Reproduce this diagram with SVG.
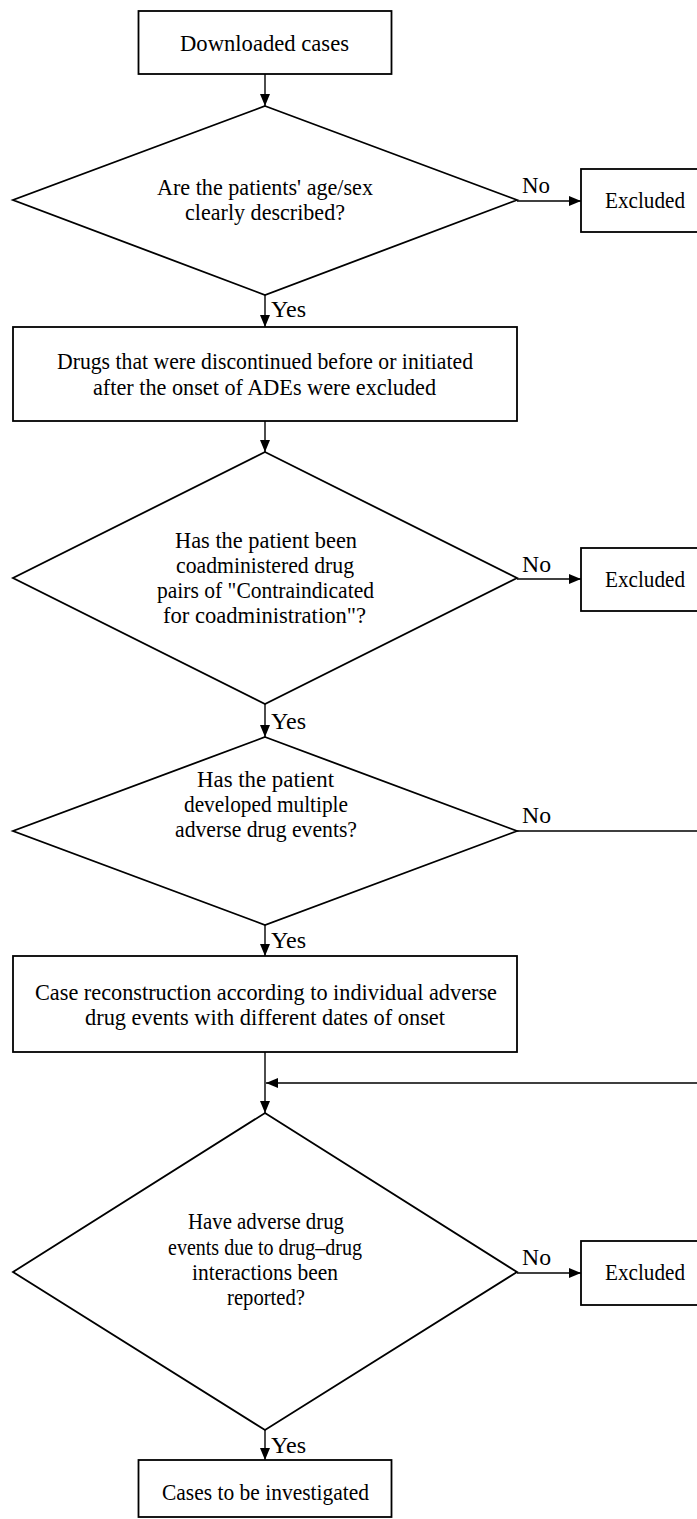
<svg xmlns="http://www.w3.org/2000/svg" width="697" height="1519" viewBox="0 0 697 1519">
<style>
.box{fill:#fff;stroke:#000;stroke-width:1.8}
.dia{fill:#fff;stroke:#000;stroke-width:1.8}
.ln{fill:none;stroke:#000;stroke-width:1.4}
text{font-family:'Liberation Serif','DejaVu Serif','Times New Roman',serif;font-size:24px;fill:#000}
.c{text-anchor:middle}
</style>
<defs>
<marker id="ah" markerUnits="userSpaceOnUse" markerWidth="12" markerHeight="10" refX="12" refY="5" orient="auto">
<path d="M0,0 L12,5 L0,10 Z" fill="#000"/>
</marker>
</defs>
<rect width="697" height="1519" fill="#fff"/>
<g id="connectors">
<line class="ln" x1="265" y1="74" x2="265" y2="106" marker-end="url(#ah)"/>
<line class="ln" x1="517" y1="201" x2="581" y2="201" marker-end="url(#ah)"/>
<line class="ln" x1="265" y1="295" x2="265" y2="327" marker-end="url(#ah)"/>
<line class="ln" x1="265" y1="421" x2="265" y2="452" marker-end="url(#ah)"/>
<line class="ln" x1="517" y1="579" x2="581" y2="579" marker-end="url(#ah)"/>
<line class="ln" x1="265" y1="704" x2="265" y2="737" marker-end="url(#ah)"/>
<line class="ln" x1="265" y1="925" x2="265" y2="956" marker-end="url(#ah)"/>
<path class="ln" d="M517,831 H712 V1083 H266" marker-end="url(#ah)"/>
<line class="ln" x1="265" y1="1052" x2="265" y2="1113" marker-end="url(#ah)"/>
<line class="ln" x1="517" y1="1273" x2="581" y2="1273" marker-end="url(#ah)"/>
<line class="ln" x1="265" y1="1430" x2="265" y2="1460" marker-end="url(#ah)"/>
<text x="522" y="193" textLength="28" lengthAdjust="spacingAndGlyphs">No</text>
<text x="522" y="572" textLength="29" lengthAdjust="spacingAndGlyphs">No</text>
<text x="522" y="823" textLength="29" lengthAdjust="spacingAndGlyphs">No</text>
<text x="522" y="1265" textLength="29" lengthAdjust="spacingAndGlyphs">No</text>
<text x="271" y="317" textLength="35" lengthAdjust="spacingAndGlyphs">Yes</text>
<text x="271" y="729" textLength="35" lengthAdjust="spacingAndGlyphs">Yes</text>
<text x="271" y="948" textLength="35" lengthAdjust="spacingAndGlyphs">Yes</text>
<text x="271" y="1453" textLength="35" lengthAdjust="spacingAndGlyphs">Yes</text>
</g>
<g id="n-downloaded">
<rect class="box" x="138.5" y="11" width="253" height="63"/>
<text class="c" x="264.5" y="51" textLength="169" lengthAdjust="spacingAndGlyphs">Downloaded cases</text>
</g>
<g id="d-agesex">
<polygon class="dia" points="265,106 517,200 265,295 13,200"/>
<text class="c" x="265" y="195" textLength="216" lengthAdjust="spacingAndGlyphs">Are the patients' age/sex</text>
<text class="c" x="265" y="220" textLength="160" lengthAdjust="spacingAndGlyphs">clearly described?</text>
</g>
<g id="n-excluded1">
<rect class="box" x="581" y="169" width="131" height="63"/>
<text class="c" x="645" y="208" textLength="80" lengthAdjust="spacingAndGlyphs">Excluded</text>
</g>
<g id="n-drugs">
<rect class="box" x="13" y="327" width="504" height="94"/>
<text class="c" x="265" y="369" textLength="416" lengthAdjust="spacingAndGlyphs">Drugs that were discontinued before or initiated</text>
<text class="c" x="264.5" y="395" textLength="343" lengthAdjust="spacingAndGlyphs">after the onset of ADEs were excluded</text>
</g>
<g id="d-contra">
<polygon class="dia" points="265,452 517,578 265,704 13,578"/>
<text class="c" x="266" y="548" textLength="182" lengthAdjust="spacingAndGlyphs">Has the patient been</text>
<text class="c" x="265" y="573" textLength="178" lengthAdjust="spacingAndGlyphs">coadministered drug</text>
<text class="c" x="265.5" y="598" textLength="217" lengthAdjust="spacingAndGlyphs">pairs of "Contraindicated</text>
<text class="c" x="264.5" y="623" textLength="203" lengthAdjust="spacingAndGlyphs">for coadministration"?</text>
</g>
<g id="n-excluded2">
<rect class="box" x="581" y="548" width="131" height="63"/>
<text class="c" x="645" y="587" textLength="80" lengthAdjust="spacingAndGlyphs">Excluded</text>
</g>
<g id="d-multiple">
<polygon class="dia" points="265,737 517,831 265,925 13,831"/>
<text class="c" x="265.5" y="787" textLength="137" lengthAdjust="spacingAndGlyphs">Has the patient</text>
<text class="c" x="266" y="812" textLength="164" lengthAdjust="spacingAndGlyphs">developed multiple</text>
<text class="c" x="266" y="837" textLength="182" lengthAdjust="spacingAndGlyphs">adverse drug events?</text>
</g>
<g id="n-reconstruction">
<rect class="box" x="13" y="956" width="504" height="96"/>
<text class="c" x="266" y="1000" textLength="462" lengthAdjust="spacingAndGlyphs">Case reconstruction according to individual  adverse</text>
<text class="c" x="265" y="1025" textLength="360" lengthAdjust="spacingAndGlyphs">drug events with different dates of onset</text>
</g>
<g id="d-ddi">
<polygon class="dia" points="265,1113 517,1272 265,1430 13,1272"/>
<text class="c" x="266" y="1229" textLength="156" lengthAdjust="spacingAndGlyphs">Have adverse drug</text>
<text class="c" x="265" y="1255" textLength="194" lengthAdjust="spacingAndGlyphs">events due to drug–drug</text>
<text class="c" x="265" y="1280" textLength="146" lengthAdjust="spacingAndGlyphs">interactions been</text>
<text class="c" x="266" y="1305" textLength="78" lengthAdjust="spacingAndGlyphs">reported?</text>
</g>
<g id="n-excluded3">
<rect class="box" x="581" y="1241" width="131" height="64"/>
<text class="c" x="645" y="1280" textLength="80" lengthAdjust="spacingAndGlyphs">Excluded</text>
</g>
<g id="n-cases">
<rect class="box" x="138.5" y="1460" width="253" height="57"/>
<text class="c" x="265.5" y="1500" textLength="207" lengthAdjust="spacingAndGlyphs">Cases to be investigated</text>
</g>
</svg>
